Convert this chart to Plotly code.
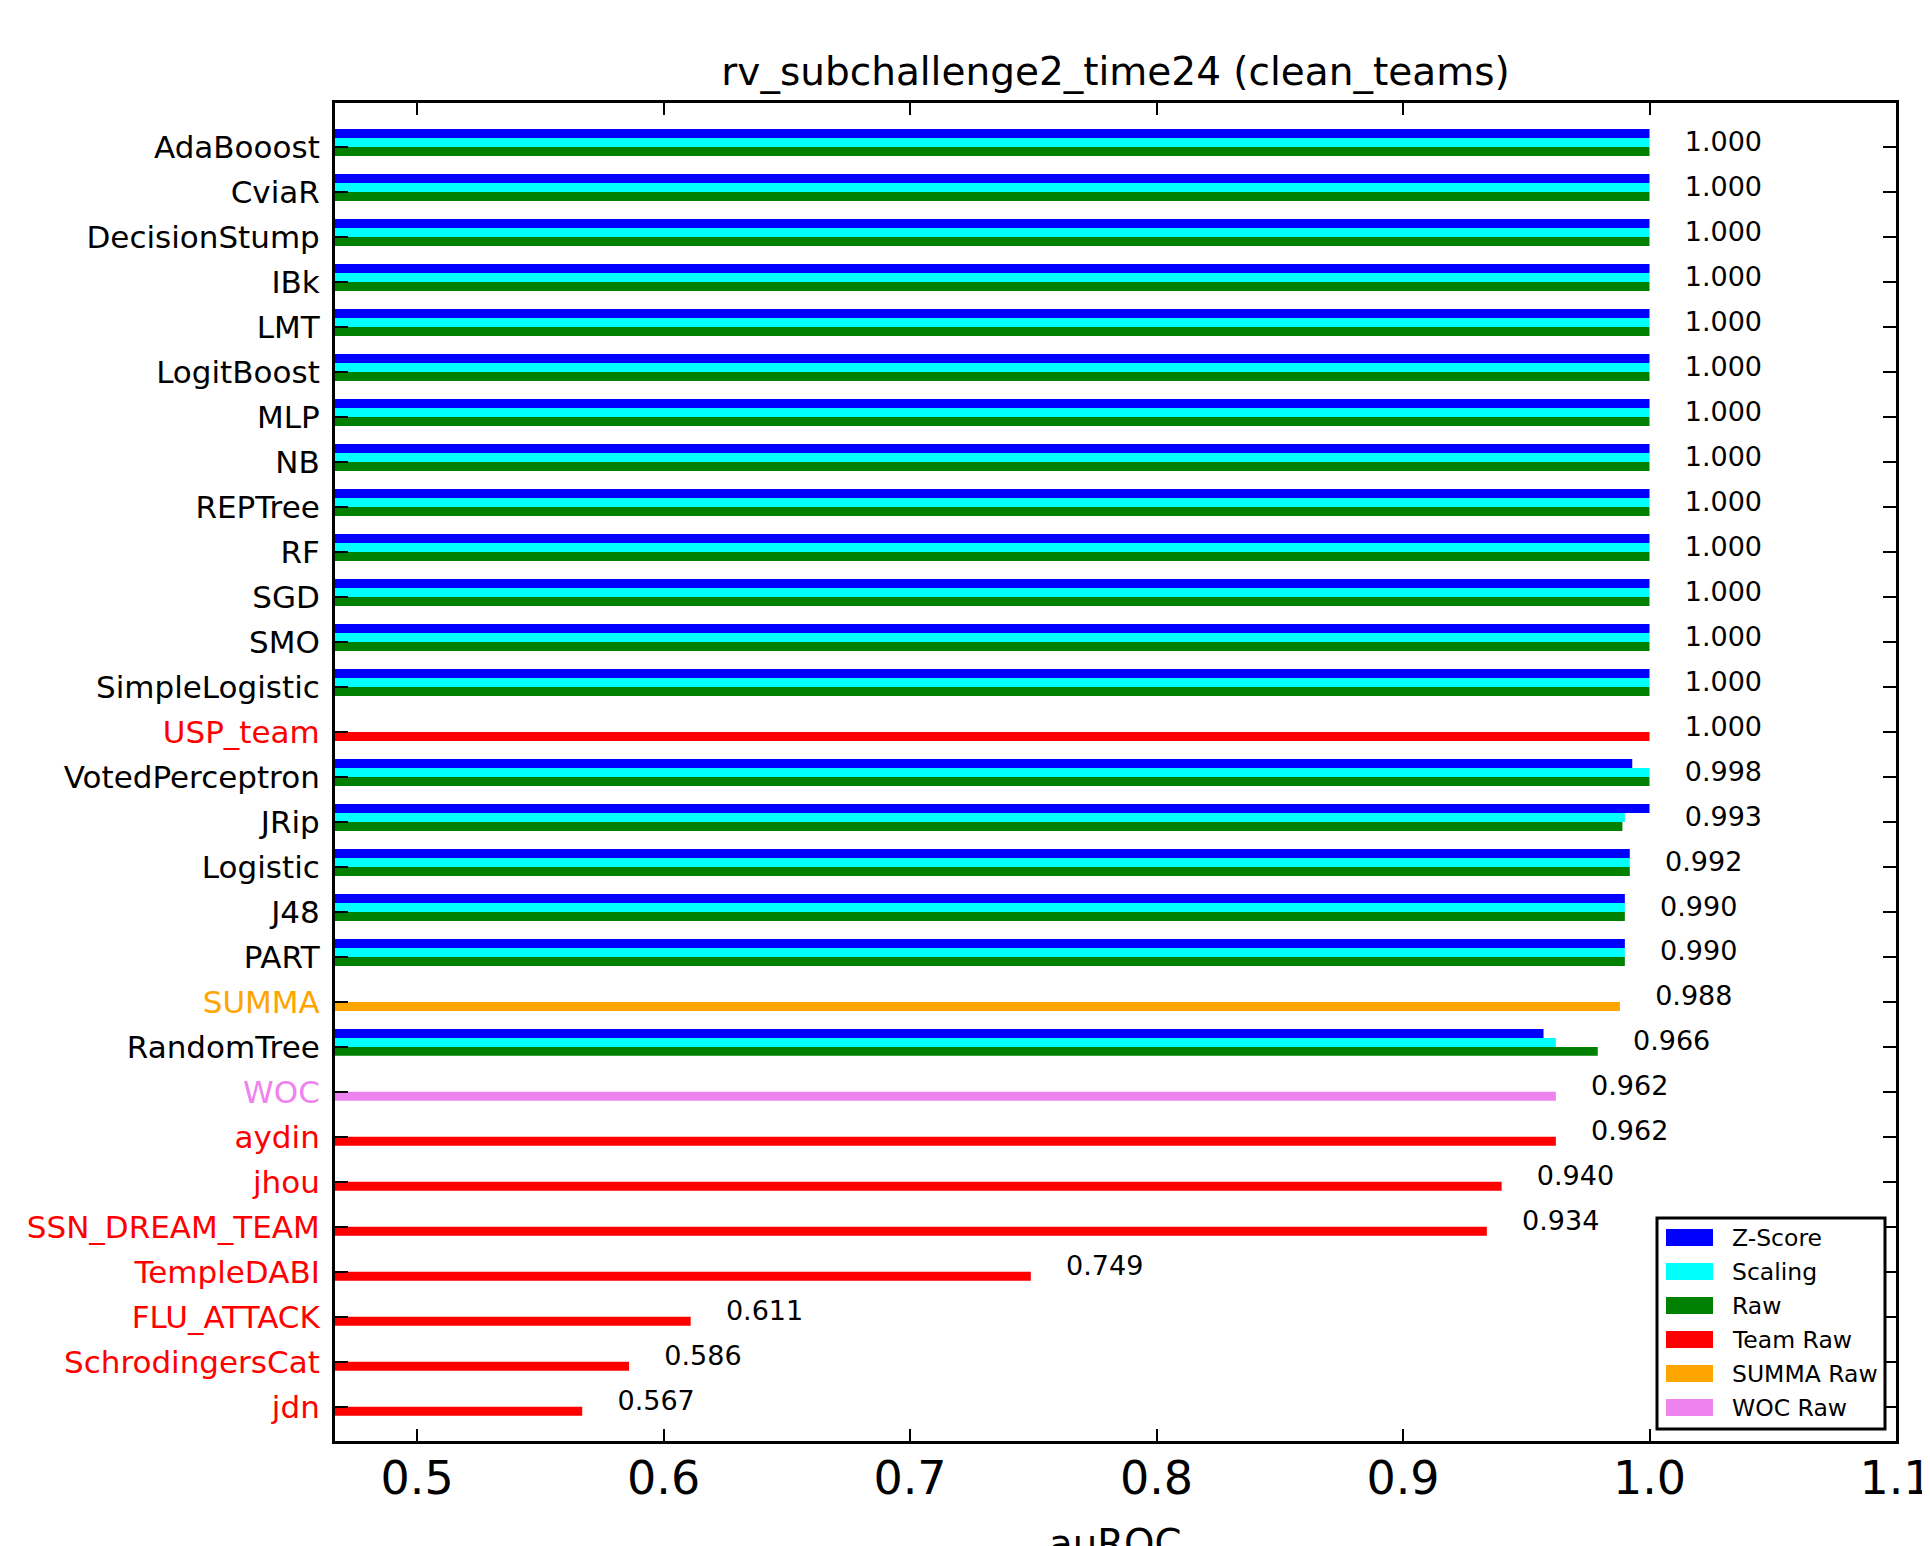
import plotly.graph_objects as go

categories = ["AdaBooost", "CviaR", "DecisionStump", "IBk", "LMT", "LogitBoost", "MLP", "NB",
              "REPTree", "RF", "SGD", "SMO", "SimpleLogistic", "USP_team", "VotedPerceptron",
              "JRip", "Logistic", "J48", "PART", "SUMMA", "RandomTree", "WOC", "aydin", "jhou",
              "SSN_DREAM_TEAM", "TempleDABI", "FLU_ATTACK", "SchrodingersCat", "jdn"]
kinds = ["algo"] * 13 + ["team", "algo", "algo", "algo", "algo", "algo", "summa", "algo", "woc",
                         "team", "team", "team", "team", "team", "team", "team"]

zscore = [1.0] * 13 + [None, 0.993, 1.0, 0.992, 0.990, 0.990, None, 0.957] + [None] * 8
scaling = [1.0] * 13 + [None, 1.0, 0.990, 0.992, 0.990, 0.990, None, 0.962] + [None] * 8
raw = [1.0] * 13 + [None, 1.0, 0.989, 0.992, 0.990, 0.990, None, 0.979] + [None] * 8
team_raw = [None] * 13 + [1.000] + [None] * 8 + [0.962, 0.940, 0.934, 0.749, 0.611, 0.586, 0.567]
summa_raw = [None] * 19 + [0.988] + [None] * 9
woc_raw = [None] * 21 + [0.962] + [None] * 7

series_names = ["Z-Score", "Scaling", "Raw", "Team Raw", "SUMMA Raw", "WOC Raw"]
series_colors = ["#0000FF", "#00FFFF", "#008000", "#FF0000", "#FFA500", "#EE82EE"]
label_colors = {"algo": "black", "team": "#FF0000", "summa": "#FFA500", "woc": "#EE82EE"}

series_values = [zscore, scaling, raw, team_raw, summa_raw, woc_raw]
series_offsets = [-0.4, -0.2, 0.0, 0.0, 0.0, 0.0]
BAR_W = 0.2

FONT = "DejaVu Sans"
# page has an 8px body margin, so the figure is 8px smaller than the window
W, H = 1922, 1538
ML, MR, MT, MB = 327, 34, 95, 105
PW, PH = W - ML - MR, H - MT - MB

idx = list(range(len(categories)))
fig = go.Figure()
for name, vals, col, off in zip(series_names, series_values, series_colors, series_offsets):
    fig.add_trace(go.Bar(
        y=idx, x=vals, orientation="h", name=name, marker=dict(color=col, line=dict(width=0)),
        width=BAR_W, offset=off, showlegend=False, hoverinfo="x+name"))

# value labels: mean of available values, placed right of the longest bar
lab_x, lab_y, lab_t = [], [], []
for i in idx:
    vals = [s[i] for s in series_values if s[i] is not None]
    lab_x.append(max(vals) + 0.0143)
    lab_y.append(i - 0.07)
    lab_t.append(f"{sum(vals) / len(vals):.3f}")
fig.add_trace(go.Scatter(x=lab_x, y=lab_y, mode="text", text=lab_t, textposition="middle right",
                         textfont=dict(family=FONT, size=27, color="black"),
                         showlegend=False, hoverinfo="skip"))

ticktext = [f'<span style="color:{label_colors[k]}">{c}</span>' for c, k in zip(categories, kinds)]

fig.update_layout(
    width=W, height=H, margin=dict(l=ML, r=MR, t=MT, b=MB, autoexpand=False),
    paper_bgcolor="white", plot_bgcolor="white", barmode="overlay",
    font=dict(family=FONT, color="black"),
    title=dict(text="rv_subchallenge2_time24 (clean_teams)", x=0.5, xref="paper", xanchor="center",
               y=1 - 63.5 / H, yref="container", yanchor="middle",
               font=dict(family=FONT, size=39, color="black")),
    xaxis=dict(range=[0.4667, 1.1], tickvals=[0.5, 0.6, 0.7, 0.8, 0.9, 1.0, 1.1], tickformat=".1f",
               ticks="inside", ticklen=12, tickwidth=2, tickcolor="black", mirror="allticks",
               showline=True, linewidth=3, linecolor="black", showgrid=False, zeroline=False,
               tickfont=dict(family=FONT, size=46, color="black"), ticklabelstandoff=-5,
               ticklabeloverflow="allow"),
    yaxis=dict(range=[28.76, -0.979], tickmode="array", tickvals=idx, ticktext=ticktext,
               ticks="inside", ticklen=13, tickwidth=2, tickcolor="black", mirror="allticks",
               showline=True, linewidth=3, linecolor="black", showgrid=False, zeroline=False,
               tickfont=dict(family=FONT, size=31, color="black"), ticklabelstandoff=6),
)

def px_x(p):
    return (p - ML) / PW

def px_y(p):
    return (H - MB - p) / PH

# x-axis title (partly below the canvas like the reference)
fig.add_annotation(text="auROC", xref="paper", yref="paper", x=0.5, y=px_y(H - MB + 78),
                   xanchor="center", yanchor="top", showarrow=False,
                   font=dict(family=FONT, size=38.7, color="black"))

# legend drawn inside the axes, lower right
OFF = 8
fig.add_shape(type="rect", xref="paper", yref="paper", x0=px_x(1657 - OFF), x1=px_x(1885 - OFF),
              y0=px_y(1429 - OFF), y1=px_y(1218 - OFF), line=dict(color="black", width=3),
              fillcolor="white", layer="above")
for k, (name, col) in enumerate(zip(series_names, series_colors)):
    cy = 1237.5 + 34 * k - OFF
    fig.add_shape(type="rect", xref="paper", yref="paper", x0=px_x(1666 - OFF), x1=px_x(1713 - OFF),
                  y0=px_y(cy + 8.5), y1=px_y(cy - 8.5), line=dict(width=0), fillcolor=col,
                  layer="above")
    fig.add_annotation(text=name, xref="paper", yref="paper", x=px_x(1730 - OFF), y=px_y(cy),
                       xanchor="left", yanchor="middle", showarrow=False,
                       font=dict(family=FONT, size=23.5, color="black"))

fig.write_html("out.html")
